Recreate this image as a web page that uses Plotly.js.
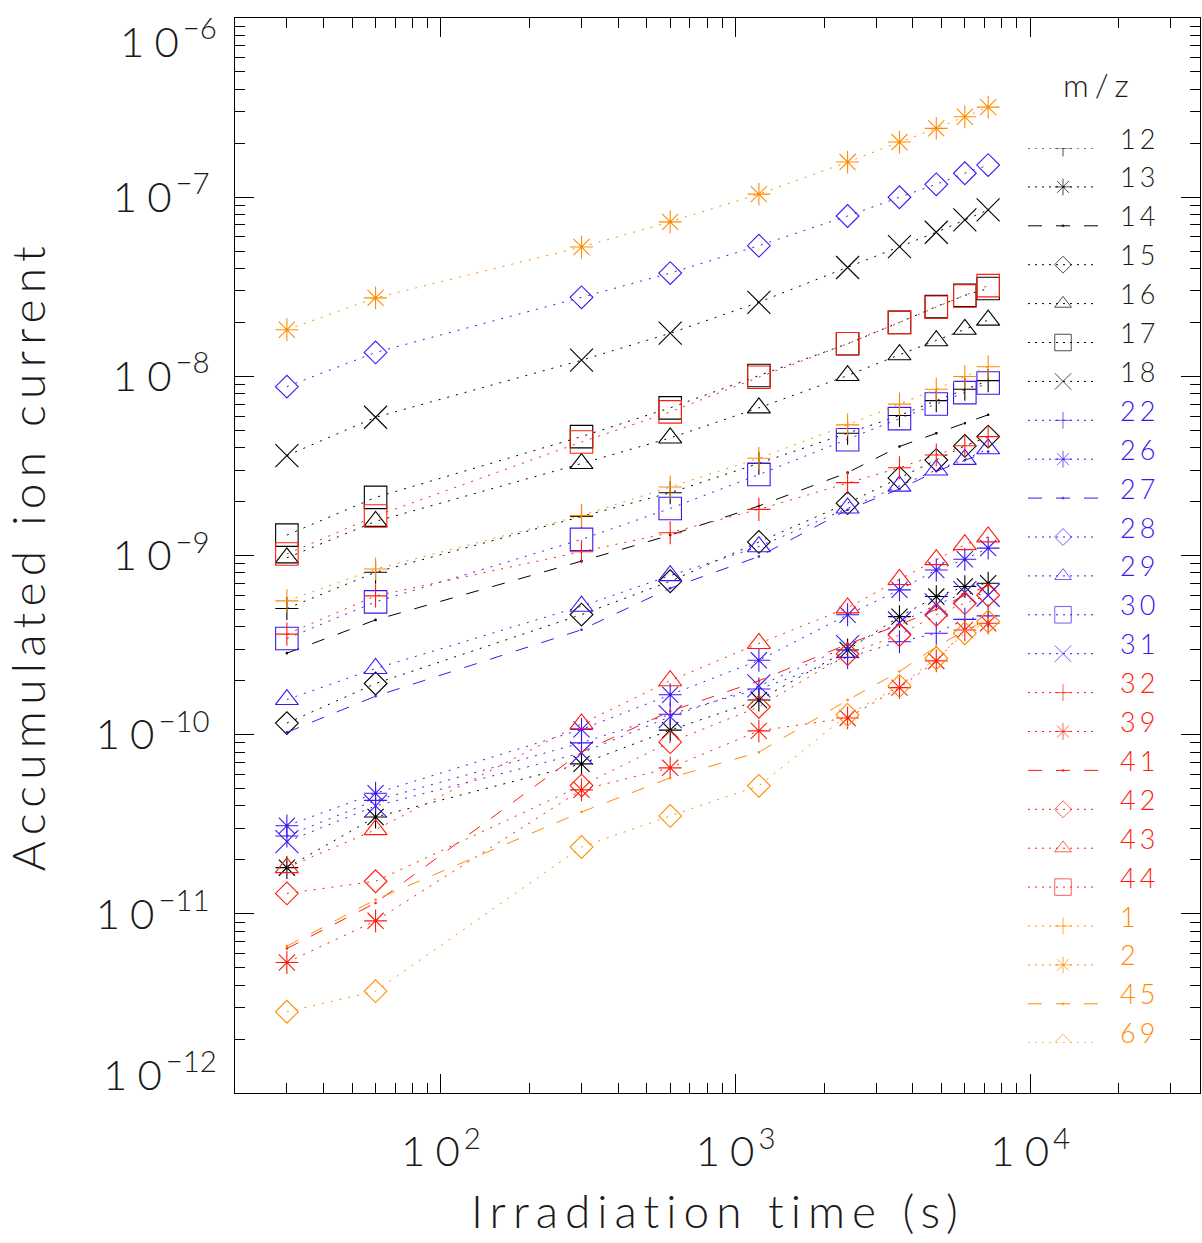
<!DOCTYPE html>
<html>
<head>
<meta charset="utf-8">
<script src="https://cdn.plot.ly/plotly-3.0.1.min.js"></script>
<style>html,body{margin:0;padding:0;background:#fff;}#chart{width:1202px;height:1243px;}</style>
</head>
<body>
<div id="chart"></div>
<script>
// Irradiation times (s)
var time = [30, 60, 300, 600, 1200, 2400, 3600, 4800, 6000, 7200];

// Accumulated ion current per m/z
var mz12 = [5.06e-10, 8.06e-10, 1.65e-9, 2.24e-9, 3.27e-9, 4.81e-9, 6.04e-9, 7.32e-9, 8.47e-9, 9.46e-9];
var mz13 = [1.81e-11, 3.47e-11, 6.87e-11, 1.06e-10, 1.56e-10, 2.97e-10, 4.56e-10, 5.9e-10, 6.71e-10, 7.0e-10];
var mz14 = [2.85e-10, 4.37e-10, 9.3e-10, 1.30e-9, 1.89e-9, 2.90e-9, 4.06e-9, 4.81e-9, 5.47e-9, 6.1e-9];
var mz15 = [1.16e-10, 1.93e-10, 4.68e-10, 7.18e-10, 1.19e-9, 1.96e-9, 2.71e-9, 3.41e-9, 4.09e-9, 4.61e-9];
var mz16 = [9.7e-10, 1.55e-9, 3.26e-9, 4.53e-9, 6.67e-9, 1.01e-8, 1.32e-8, 1.58e-8, 1.83e-8, 2.06e-8];
var mz17 = [1.30e-9, 2.11e-9, 4.61e-9, 6.67e-9, 1.01e-8, 1.52e-8, 2.0e-8, 2.45e-8, 2.83e-8, 3.09e-8];
var mz18 = [3.61e-9, 5.91e-9, 1.23e-8, 1.74e-8, 2.59e-8, 4.05e-8, 5.30e-8, 6.37e-8, 7.46e-8, 8.49e-8];
var mz22 = [2.72e-11, 4.3e-11, 9.0e-11, 1.3e-10, 1.8e-10, 2.7e-10, 3.3e-10, 3.68e-10, 4.4e-10, 4.6e-10];
var mz26 = [3.1e-11, 4.71e-11, 1.07e-10, 1.67e-10, 2.6e-10, 4.67e-10, 6.43e-10, 8.3e-10, 9.53e-10, 1.1e-9];
var mz27 = [1.03e-10, 1.64e-10, 3.85e-10, 6.57e-10, 9.87e-10, 1.80e-9, 2.35e-9, 2.95e-9, 3.4e-9, 3.8e-9];
var mz28 = [8.76e-9, 1.36e-8, 2.76e-8, 3.77e-8, 5.36e-8, 7.85e-8, 9.99e-8, 1.18e-7, 1.36e-7, 1.51e-7];
var mz29 = [1.57e-10, 2.34e-10, 5.21e-10, 7.72e-10, 1.12e-9, 1.84e-9, 2.44e-9, 3.0e-9, 3.44e-9, 3.94e-9];
var mz30 = [3.44e-10, 5.51e-10, 1.23e-9, 1.83e-9, 2.83e-9, 4.43e-9, 5.81e-9, 7.01e-9, 8.11e-9, 9.18e-9];
var mz31 = [2.53e-11, 4.0e-11, 7.9e-11, 1.26e-10, 1.87e-10, 3.1e-10, 4.2e-10, 5.3e-10, 6.2e-10, 6.0e-10];
var mz32 = [3.64e-10, 5.95e-10, 1.05e-9, 1.34e-9, 1.81e-9, 2.55e-9, 3.09e-9, 3.64e-9, 4.1e-9, 4.61e-9];
var mz39 = [5.35e-12, 9.14e-12, 4.92e-11, 6.53e-11, 1.05e-10, 1.24e-10, 1.83e-10, 2.58e-10, 3.84e-10, 4.19e-10];
var mz41 = [6.4e-12, 1.15e-11, 8.0e-11, 1.35e-10, 2.0e-10, 3.2e-10, 4.1e-10, 5.0e-10, 6.0e-10, 6.8e-10];
var mz42 = [1.30e-11, 1.52e-11, 5.2e-11, 9.08e-11, 1.43e-10, 2.82e-10, 3.6e-10, 4.67e-10, 5.42e-10, 6.0e-10];
var mz43 = [1.81e-11, 2.95e-11, 1.15e-10, 2.0e-10, 3.23e-10, 5.1e-10, 7.35e-10, 9.48e-10, 1.15e-9, 1.27e-9];
var mz44 = [1.02e-9, 1.66e-9, 4.3e-9, 6.33e-9, 9.89e-9, 1.52e-8, 2.0e-8, 2.43e-8, 2.81e-8, 3.21e-8];
var mz1  = [5.58e-10, 8.4e-10, 1.67e-9, 2.41e-9, 3.49e-9, 5.36e-9, 7.0e-9, 8.47e-9, 9.97e-9, 1.13e-8];
var mz2  = [1.82e-8, 2.74e-8, 5.27e-8, 7.28e-8, 1.04e-7, 1.57e-7, 2.03e-7, 2.42e-7, 2.81e-7, 3.18e-7];
var mz45 = [6.6e-12, 1.2e-11, 3.7e-11, 5.74e-11, 7.98e-11, 1.56e-10, 2.25e-10, 3.1e-10, 3.8e-10, 4.4e-10];
var mz69 = [2.84e-12, 3.7e-12, 2.36e-11, 3.52e-11, 5.18e-11, 1.29e-10, 1.87e-10, 2.67e-10, 3.68e-10, 4.28e-10];

var labels = ['12','13','14','15','16','17','18','22','26','27','28','29','30','31','32','39','41','42','43','44','1','2','45','69'];
var values = [mz12,mz13,mz14,mz15,mz16,mz17,mz18,mz22,mz26,mz27,mz28,mz29,mz30,mz31,mz32,mz39,mz41,mz42,mz43,mz44,mz1,mz2,mz45,mz69];

// axis texts
var xTitle = 'Irradiation time (s)';
var yTitle = 'Accumulated ion current';
var xTickVals = [100, 1000, 10000];
var xTickSup = ['2', '3', '4'];
var yTickVals = [1e-11, 1e-10, 1e-9, 1e-8, 1e-7];
var yTickSup = ['\u221211', '\u221210', '\u22129', '\u22128', '\u22127'];
var yEndTickSup = ['\u22126', '\u221212'];

// styles
var BLACK = '#000000', BLUE = '#3d17f2', RED = '#ff1c0c', ORANGE = '#ff8c00';
var colors = [BLACK,BLACK,BLACK,BLACK,BLACK,BLACK,BLACK,
              BLUE,BLUE,BLUE,BLUE,BLUE,BLUE,BLUE,
              RED,RED,RED,RED,RED,RED,
              ORANGE,ORANGE,ORANGE,ORANGE];
var kinds = ['plus','star','dash','diamond','triangle','square','x',
             'plus','star','dash','diamond','triangle','square','x',
             'plus','star','dash','diamond','triangle','square',
             'plus','star','dash','diamond'];
var symMap = {plus:'cross-thin-open', star:'asterisk-open', dash:'circle', diamond:'diamond-open',
              triangle:'triangle-up-open', square:'square-open', x:'x-thin-open'};
var sizeMap = {plus:16.5, star:19, dash:1.5, diamond:17.5, triangle:20, square:22.5, x:23};
var legSizeMap = {plus:12, star:14, dash:2, diamond:13, triangle:14.5, square:16.5, x:16.5};
var DOT = '2px,7px', DASHED = '13px,14px';

var FONT = 'Lato, DejaVu Sans, sans-serif';
var W = 300;
var TXT = '#1a1a1a';
function sp(t, px) { return '<span style="letter-spacing:' + px + 'px">' + t + '</span>'; }
function tickLbl(sup) { return sp('1', 10) + sp('0', 4) + '<sup>' + sup + '</sup>'; }

// plot area geometry (pixels) used for the hand-built legend
var PL = 235, PR = 1200, PT = 18, PB = 1093;
function px2paperX(p) { return (p - PL) / (PR - PL); }
function px2paperY(p) { return 1 - (p - PT) / (PB - PT); }

var traces = [];
for (var i = 0; i < labels.length; i++) {
  var k = kinds[i];
  traces.push({
    x: time, y: values[i], type: 'scatter', mode: 'lines+markers',
    xaxis: 'x', yaxis: 'y', showlegend: false, hoverinfo: 'skip',
    line: {color: colors[i], width: 1, dash: k === 'dash' ? DASHED : DOT},
    marker: {symbol: symMap[k], size: sizeMap[k], color: colors[i],
             line: {color: colors[i], width: 1.1}}
  });
}

// custom legend drawn on a second pair of (hidden) axes
var ROW0 = 148, ROWSTEP = 38.9;
var annotations = [];
for (var j = 0; j < labels.length; j++) {
  var kk = kinds[j];
  var ls = legSizeMap[kk];
  traces.push({
    x: [0, 0.5, 1], y: [j, j, j], type: 'scatter', mode: 'lines+markers',
    xaxis: 'x2', yaxis: 'y2', showlegend: false, hoverinfo: 'skip',
    line: {color: colors[j], width: 1, dash: kk === 'dash' ? '14px,14px' : '2px,5px'},
    marker: {symbol: symMap[kk], size: [0, ls, 0], color: colors[j],
             line: {color: colors[j], width: 1}}
  });
  annotations.push({
    xref: 'paper', yref: 'paper', x: px2paperX(1118), y: px2paperY(ROW0 + j * ROWSTEP - 10),
    text: sp(labels[j], 4), showarrow: false, xanchor: 'left', yanchor: 'middle',
    font: {family: FONT, size: 27, weight: W, color: colors[j] === BLACK ? TXT : colors[j]}
  });
}
annotations.push({
  xref: 'paper', yref: 'paper', x: px2paperX(1099), y: px2paperY(84),
  text: sp('m/z', 6), showarrow: false, xanchor: 'center', yanchor: 'middle',
  font: {family: FONT, size: 32, weight: W, color: TXT}
});
// end labels of the y axis (drawn inside the figure like the original)
annotations.push({
  xref: 'paper', yref: 'paper', x: 0, y: 1, xshift: -16, yshift: -20,
  text: tickLbl(yEndTickSup[0]), showarrow: false, xanchor: 'right', yanchor: 'middle',
  font: {family: FONT, size: 42, weight: W, color: TXT}
});
annotations.push({
  xref: 'paper', yref: 'paper', x: 0, y: 0, xshift: -16, yshift: 22,
  text: tickLbl(yEndTickSup[1]), showarrow: false, xanchor: 'right', yanchor: 'middle',
  font: {family: FONT, size: 42, weight: W, color: TXT}
});
// x axis title
annotations.push({
  xref: 'paper', yref: 'paper', x: 0.5, y: 0, yshift: -(1240 - PB),
  text: sp(xTitle, 7), showarrow: false, xanchor: 'center', yanchor: 'bottom',
  font: {family: FONT, size: 46, weight: W, color: TXT}
});

var yMinor = [];
for (var e = -12; e < -6; e++) { for (var m = 2; m <= 9; m++) { yMinor.push(m * Math.pow(10, e)); } }
var xMinor = [];
for (var e2 = 1; e2 <= 4; e2++) { for (var m2 = 2; m2 <= 9; m2++) { var v = m2 * Math.pow(10, e2); if (v >= 20 && v <= 37000) xMinor.push(v); } }

var layout = {
  width: 1202, height: 1243,
  margin: {l: PL, r: 1202 - PR, t: PT, b: 1243 - PB, pad: 0},
  paper_bgcolor: '#ffffff', plot_bgcolor: '#ffffff',
  font: {family: FONT, color: TXT, weight: W},
  showlegend: false,
  xaxis: {
    type: 'log', range: [Math.log10(20), Math.log10(37700)], autorange: false,
    showline: true, linecolor: '#000', linewidth: 1, mirror: 'ticks',
    ticks: 'inside', ticklen: 19, tickcolor: '#000', tickwidth: 1,
    tickvals: xTickVals,
    ticktext: xTickSup.map(tickLbl),
    minor: {ticks: 'inside', ticklen: 10, tickcolor: '#000', tickwidth: 1, tickvals: xMinor},
    showgrid: false, zeroline: false,
    tickfont: {family: FONT, size: 42, weight: W, color: TXT},
    ticklabelstandoff: 22
  },
  yaxis: {
    type: 'log', range: [-12, -6], autorange: false,
    showline: true, linecolor: '#000', linewidth: 1, mirror: 'ticks',
    ticks: 'inside', ticklen: 19, tickcolor: '#000', tickwidth: 1,
    tickvals: yTickVals,
    ticktext: yTickSup.map(tickLbl),
    minor: {ticks: 'inside', ticklen: 10, tickcolor: '#000', tickwidth: 1, tickvals: yMinor},
    showgrid: false, zeroline: false,
    tickfont: {family: FONT, size: 42, weight: W, color: TXT},
    ticklabelstandoff: 16,
    title: {text: sp(yTitle, 6.3), font: {family: FONT, size: 46, weight: W, color: TXT}, standoff: 36}
  },
  xaxis2: {
    domain: [px2paperX(1028), px2paperX(1098)], range: [0, 1], anchor: 'y2',
    visible: false, fixedrange: true
  },
  yaxis2: {
    domain: [px2paperY(ROW0 + 23 * ROWSTEP), px2paperY(ROW0)], range: [23, 0], anchor: 'x2',
    visible: false, fixedrange: true
  },
  annotations: annotations
};

Plotly.newPlot('chart', traces, layout, {staticPlot: true, displayModeBar: false});
</script>
</body>
</html>
